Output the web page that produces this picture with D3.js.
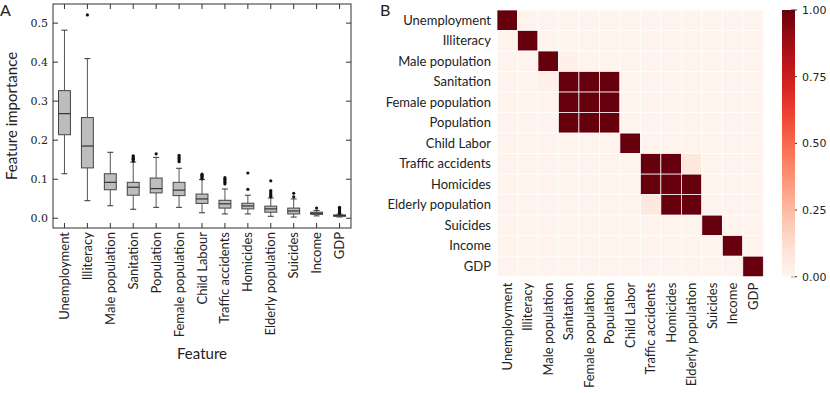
<!DOCTYPE html>
<html>
<head>
<meta charset="utf-8">
<script src="https://cdn.jsdelivr.net/npm/d3@7"></script>
<style>
  body { margin: 0; background: #fff; }
  text { font-family: "Lato", "DejaVu Sans", sans-serif; fill: #222; }
</style>
</head>
<body>
<svg id="chart"></svg>
<script>
var width = 830;
var height = 393;

// panel A: feature importance boxplots
var features = ["Unemployment", "Illiteracy", "Male population", "Sanitation", "Population",
  "Female population", "Child Labour", "Traffic accidents", "Homicides", "Elderly population",
  "Suicides", "Income", "GDP"];
var whiskerLow = [0.114, 0.045, 0.032, 0.023, 0.028, 0.028, 0.014, 0.011, 0.011, 0.005, 0.003, 0.006, 0.0033];
var q1 = [0.214, 0.129, 0.073, 0.059, 0.065, 0.058, 0.038, 0.026, 0.024, 0.0155, 0.011, 0.010, 0.005];
var medians = [0.268, 0.185, 0.092, 0.0795, 0.076, 0.072, 0.0495, 0.037, 0.0315, 0.024, 0.0187, 0.0128, 0.0068];
var q3 = [0.327, 0.258, 0.114, 0.092, 0.103, 0.092, 0.062, 0.046, 0.0385, 0.031, 0.026, 0.0155, 0.0085];
var whiskerHigh = [0.482, 0.409, 0.169, 0.144, 0.156, 0.128, 0.099, 0.075, 0.059, 0.052, 0.0495, 0.020, 0.0103];
var outliers = [
  [],
  [0.521],
  [],
  [0.147, 0.151, 0.154, 0.157, 0.160],
  [0.165],
  [0.145, 0.149, 0.153, 0.157, 0.161],
  [0.101, 0.104, 0.107, 0.110, 0.113],
  [0.088, 0.092, 0.096, 0.100, 0.104],
  [0.074, 0.116],
  [0.055, 0.059, 0.063, 0.067, 0.071, 0.096],
  [0.055, 0.064],
  [0.026],
  [0.013, 0.016, 0.019, 0.022, 0.025, 0.028]
];
var importanceTicks = [0.0, 0.1, 0.2, 0.3, 0.4, 0.5];

// panel B: correlation matrix
var corrLabels = ["Unemployment", "Illiteracy", "Male population", "Sanitation", "Female population",
  "Population", "Child Labor", "Traffic accidents", "Homicides", "Elderly population",
  "Suicides", "Income", "GDP"];
var corr = [
  [1.00, 0.01, 0.01, 0.01, 0.01, 0.01, 0.01, 0.01, 0.01, 0.01, 0.01, 0.01, 0.01],
  [0.01, 1.00, 0.01, 0.01, 0.01, 0.01, 0.01, 0.01, 0.01, 0.01, 0.01, 0.01, 0.01],
  [0.01, 0.01, 1.00, 0.03, 0.01, 0.01, 0.01, 0.01, 0.01, 0.01, 0.01, 0.01, 0.01],
  [0.01, 0.01, 0.03, 1.00, 1.00, 1.00, 0.01, 0.01, 0.01, 0.01, 0.01, 0.01, 0.01],
  [0.01, 0.01, 0.01, 1.00, 1.00, 1.00, 0.01, 0.01, 0.01, 0.01, 0.01, 0.01, 0.01],
  [0.01, 0.01, 0.01, 1.00, 1.00, 1.00, 0.01, 0.01, 0.01, 0.01, 0.01, 0.01, 0.01],
  [0.01, 0.01, 0.01, 0.01, 0.01, 0.01, 1.00, 0.01, 0.01, 0.01, 0.01, 0.01, 0.01],
  [0.01, 0.01, 0.01, 0.01, 0.01, 0.01, 0.01, 1.00, 1.00, 0.08, 0.01, 0.01, 0.01],
  [0.01, 0.01, 0.01, 0.01, 0.01, 0.01, 0.01, 1.00, 1.00, 1.00, 0.01, 0.01, 0.01],
  [0.01, 0.01, 0.01, 0.01, 0.01, 0.01, 0.01, 0.08, 1.00, 1.00, 0.01, 0.01, 0.01],
  [0.01, 0.01, 0.01, 0.01, 0.01, 0.01, 0.01, 0.01, 0.01, 0.01, 1.00, 0.01, 0.01],
  [0.01, 0.01, 0.01, 0.01, 0.01, 0.01, 0.01, 0.01, 0.01, 0.01, 0.01, 1.00, 0.01],
  [0.01, 0.01, 0.01, 0.01, 0.01, 0.01, 0.01, 0.01, 0.01, 0.01, 0.01, 0.01, 1.00]
];
var colorTicks = [0, 0.25, 0.5, 0.75, 1];

var svg = d3.select('#chart')
  .attr("width", width)
  .attr("height", height);

// ---------- panel A ----------
var ax = { left: 53, right: 351, top: 4, bottom: 228 };

var x = d3.scaleBand()
  .domain(features)
  .range([ax.left, ax.right])
  .padding(0);

var y = d3.scaleLinear()
  .domain([-0.025, 0.549])
  .range([ax.bottom, ax.top]);

var boxW = x.bandwidth() * 0.52;
var capW = boxW * 0.5;

var boxes = svg.append("g");

features.forEach(function (f, i) {
  var cx = x(f) + x.bandwidth() / 2;
  var g = boxes.append("g");

  // whiskers
  g.append("line")
    .attr("x1", cx).attr("x2", cx)
    .attr("y1", y(q3[i])).attr("y2", y(whiskerHigh[i]))
    .attr("stroke", "#555").attr("stroke-width", 1);
  g.append("line")
    .attr("x1", cx).attr("x2", cx)
    .attr("y1", y(q1[i])).attr("y2", y(whiskerLow[i]))
    .attr("stroke", "#555").attr("stroke-width", 1);
  g.append("line")
    .attr("x1", cx - capW / 2).attr("x2", cx + capW / 2)
    .attr("y1", y(whiskerHigh[i])).attr("y2", y(whiskerHigh[i]))
    .attr("stroke", "#333").attr("stroke-width", 1);
  g.append("line")
    .attr("x1", cx - capW / 2).attr("x2", cx + capW / 2)
    .attr("y1", y(whiskerLow[i])).attr("y2", y(whiskerLow[i]))
    .attr("stroke", "#333").attr("stroke-width", 1);

  // box
  g.append("rect")
    .attr("x", cx - boxW / 2)
    .attr("y", y(q3[i]))
    .attr("width", boxW)
    .attr("height", Math.max(1, y(q1[i]) - y(q3[i])))
    .attr("fill", "#bdbdbd")
    .attr("stroke", "#444")
    .attr("stroke-width", 1);

  g.append("line")
    .attr("x1", cx - boxW / 2).attr("x2", cx + boxW / 2)
    .attr("y1", y(medians[i])).attr("y2", y(medians[i]))
    .attr("stroke", "#333").attr("stroke-width", 1.2);

  g.selectAll("circle")
    .data(outliers[i])
    .enter().append("circle")
    .attr("cx", cx)
    .attr("cy", function (d) { return y(d); })
    .attr("r", 1.6)
    .attr("fill", "#111");
});

// frame
svg.append("rect")
  .attr("x", ax.left).attr("y", ax.top)
  .attr("width", ax.right - ax.left)
  .attr("height", ax.bottom - ax.top)
  .attr("fill", "none")
  .attr("stroke", "#333")
  .attr("stroke-width", 1);

// y ticks, inward on both sides
importanceTicks.forEach(function (t) {
  svg.append("line")
    .attr("x1", ax.left).attr("x2", ax.left + 5)
    .attr("y1", y(t)).attr("y2", y(t))
    .attr("stroke", "#333");
  svg.append("line")
    .attr("x1", ax.right).attr("x2", ax.right - 5)
    .attr("y1", y(t)).attr("y2", y(t))
    .attr("stroke", "#333");
  svg.append("text")
    .attr("x", ax.left - 5)
    .attr("y", y(t))
    .attr("dy", "0.35em")
    .attr("text-anchor", "end")
    .style("font-family", "'DejaVu Serif', serif")
    .style("font-size", "11px")
    .text(t.toFixed(1));
});

// x ticks, inward top and bottom
features.forEach(function (f) {
  var cx = x(f) + x.bandwidth() / 2;
  svg.append("line")
    .attr("x1", cx).attr("x2", cx)
    .attr("y1", ax.bottom).attr("y2", ax.bottom - 5)
    .attr("stroke", "#333");
  svg.append("line")
    .attr("x1", cx).attr("x2", cx)
    .attr("y1", ax.top).attr("y2", ax.top + 5)
    .attr("stroke", "#333");
  svg.append("text")
    .attr("transform", "translate(" + (cx + 4.5) + "," + (ax.bottom + 4) + ") rotate(-90)")
    .attr("text-anchor", "end")
    .style("font-size", "13px")
    .text(f);
});

svg.append("text")
  .attr("transform", "translate(17," + ((ax.top + ax.bottom) / 2) + ") rotate(-90)")
  .attr("text-anchor", "middle")
  .style("font-size", "15px")
  .text("Feature importance");

svg.append("text")
  .attr("x", (ax.left + ax.right) / 2)
  .attr("y", 359)
  .attr("text-anchor", "middle")
  .style("font-size", "15px")
  .text("Feature");

svg.append("text")
  .attr("x", 0)
  .attr("y", 16)
  .style("font-size", "16px")
  .text("A");

// ---------- panel B ----------
var hm = { left: 497, right: 763.3, top: 10, bottom: 276.7 };

var hx = d3.scaleBand()
  .domain(corrLabels)
  .range([hm.left, hm.right]);
var hy = d3.scaleBand()
  .domain(corrLabels)
  .range([hm.top, hm.bottom]);

var color = d3.scaleSequential(d3.interpolateReds).domain([0, 1]);

var cells = [];
corr.forEach(function (row, r) {
  row.forEach(function (v, c) {
    cells.push({ row: corrLabels[r], col: corrLabels[c], value: v });
  });
});

svg.append("g")
  .selectAll("rect")
  .data(cells)
  .enter().append("rect")
  .attr("x", function (d) { return hx(d.col); })
  .attr("y", function (d) { return hy(d.row); })
  .attr("width", hx.bandwidth())
  .attr("height", hy.bandwidth())
  .attr("fill", function (d) { return color(d.value); })
  .attr("stroke", "#fff")
  .attr("stroke-width", 0.7);

corrLabels.forEach(function (l) {
  svg.append("text")
    .attr("x", hm.left - 6)
    .attr("y", hy(l) + hy.bandwidth() / 2)
    .attr("dy", "0.35em")
    .attr("text-anchor", "end")
    .style("font-size", "13px")
    .text(l);
  svg.append("text")
    .attr("transform", "translate(" + (hx(l) + hx.bandwidth() / 2 + 4.5) + "," + (hm.bottom + 6) + ") rotate(-90)")
    .attr("text-anchor", "end")
    .style("font-size", "13px")
    .text(l);
});

svg.append("text")
  .attr("x", 380)
  .attr("y", 16)
  .style("font-size", "16px")
  .text("B");

// colorbar
var cb = { left: 782, right: 795, top: 10, bottom: 276.7 };
var cbY = d3.scaleLinear().domain([0, 1]).range([cb.bottom, cb.top]);

var grad = svg.append("defs").append("linearGradient")
  .attr("id", "reds")
  .attr("x1", 0).attr("y1", 1)
  .attr("x2", 0).attr("y2", 0);
d3.range(0, 1.0001, 0.1).forEach(function (t) {
  grad.append("stop")
    .attr("offset", t)
    .attr("stop-color", color(t));
});

colorTicks.forEach(function (t) {
  svg.append("line")
    .attr("x1", cb.right - 4).attr("x2", cb.right + 2)
    .attr("y1", cbY(t)).attr("y2", cbY(t))
    .attr("stroke", "#333");
  svg.append("text")
    .attr("x", cb.right + 7)
    .attr("y", cbY(t))
    .attr("dy", "0.35em")
    .style("font-family", "'DejaVu Sans', sans-serif")
    .style("font-size", "11px")
    .text(t.toFixed(2));
});

svg.append("rect")
  .attr("x", cb.left).attr("y", cb.top)
  .attr("width", cb.right - cb.left)
  .attr("height", cb.bottom - cb.top)
  .attr("fill", "url(#reds)");
</script>
</body>
</html>
